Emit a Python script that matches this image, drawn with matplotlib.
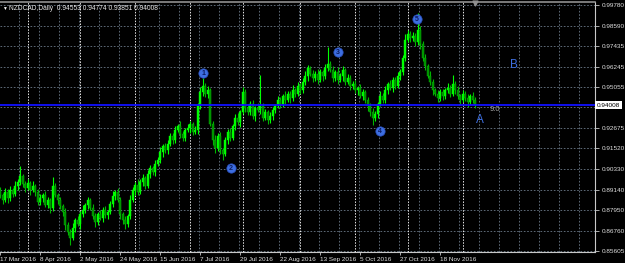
import matplotlib
matplotlib.use("Agg")
import matplotlib.pyplot as plt
import numpy as np

# ---------------- data ----------------
symbol_title = "NZDCAD,Daily  0.94553 0.94774 0.93851 0.94008"
first_open = 0.8910
closes = [
    0.88835, 0.88546, 0.89008, 0.88661, 0.89123, 0.88892, 0.89354, 0.89585, 0.89931, 0.89469,
    0.89238, 0.89527, 0.89123, 0.89354, 0.89008, 0.88431, 0.88661, 0.88835, 0.88258, 0.88546,
    0.88084, 0.89354, 0.88835, 0.88546, 0.88200, 0.87854, 0.87104, 0.86700, 0.86353, 0.86930,
    0.87392, 0.87161, 0.87738, 0.87969, 0.88258, 0.88546, 0.88084, 0.87623, 0.87277, 0.87738,
    0.87507, 0.87969, 0.87681, 0.87854, 0.88315, 0.88777, 0.89008, 0.88546, 0.87738, 0.87392,
    0.87161, 0.87623, 0.88546, 0.89123, 0.89412, 0.89008, 0.89585, 0.89815, 0.89354, 0.90046,
    0.90392, 0.90162, 0.90623, 0.90854, 0.91316, 0.91662, 0.91431, 0.91777, 0.92239, 0.92008,
    0.92585, 0.92816, 0.92354, 0.92123, 0.92585, 0.92700, 0.92931, 0.92470, 0.92585, 0.93970,
    0.94778, 0.95124, 0.94662, 0.94893, 0.92931, 0.92008, 0.91546, 0.92239, 0.91431, 0.91200,
    0.92008, 0.92470, 0.92123, 0.92816, 0.93277, 0.93047, 0.93624, 0.94778, 0.93854, 0.93624,
    0.94085, 0.93393, 0.93854, 0.93739, 0.93970, 0.93277, 0.93624, 0.93162, 0.93393, 0.93739,
    0.93970, 0.94316, 0.94085, 0.94547, 0.94316, 0.94662, 0.94431, 0.94893, 0.94662, 0.95124,
    0.94893, 0.95355, 0.95701, 0.96162, 0.95816, 0.95585, 0.95816, 0.95470, 0.95932, 0.95701,
    0.96162, 0.96393, 0.96047, 0.95585, 0.95932, 0.95470, 0.95701, 0.96047, 0.95355, 0.95585,
    0.95124, 0.95239, 0.94893, 0.95008, 0.94547, 0.94778, 0.94316, 0.93970, 0.93624, 0.93277,
    0.93508, 0.94085, 0.94547, 0.94316, 0.94893, 0.95239, 0.95008, 0.95470, 0.95124, 0.95701,
    0.95932, 0.96739, 0.97778, 0.98124, 0.97893, 0.98009, 0.97663, 0.98355, 0.97547, 0.96739,
    0.96278, 0.95701, 0.95355, 0.94893, 0.94662, 0.94431, 0.94778, 0.94547, 0.94893, 0.95008,
    0.94662, 0.95239, 0.94893, 0.94547, 0.94316, 0.94662, 0.94431, 0.94201, 0.94547, 0.94316,
    0.94008,
]
upper_wicks = [
    .0020, .0012, .0025, .0015, .0022, .0010, .0030, .0018, .0060, .0014,
    .0016, .0024, .0011, .0028, .0013, .0019, .0026, .0012, .0021, .0017,
    .0014, .0050, .0020, .0013, .0018, .0011, .0022, .0015, .0019, .0027,
    .0012, .0023, .0016, .0029, .0014, .0020, .0011, .0025, .0017, .0013,
    .0021, .0015, .0026, .0012, .0018, .0031, .0014, .0022, .0016, .0011,
    .0024, .0013, .0028, .0017, .0020, .0035, .0015, .0021, .0012, .0026,
    .0018, .0014, .0023, .0016, .0029, .0012, .0020, .0025, .0015, .0019,
    .0022, .0013, .0027, .0016, .0011, .0024, .0018, .0014, .0021, .0020,
    .0026, .0045, .0017, .0022, .0012, .0019, .0028, .0015, .0023, .0013,
    .0020, .0016, .0025, .0014, .0021, .0030, .0012, .0030, .0018, .0024,
    .0015, .0022, .0013, .0027, .0180, .0016, .0020, .0012, .0025, .0018,
    .0014, .0023, .0017, .0011, .0026, .0019, .0015, .0028, .0013, .0021,
    .0016, .0024, .0030, .0018, .0012, .0022, .0015, .0027, .0020, .0014,
    .0025, .0098, .0017, .0023, .0013, .0028, .0016, .0021, .0012, .0024,
    .0018, .0015, .0026, .0011, .0022, .0017, .0013, .0020, .0016, .0024,
    .0019, .0014, .0027, .0015, .0021, .0012, .0025, .0018, .0016, .0023,
    .0017, .0020, .0032, .0026, .0018, .0024, .0015, .0099, .0022, .0016,
    .0021, .0014, .0027, .0018, .0012, .0025, .0016, .0020, .0013, .0028,
    .0015, .0050, .0019, .0024, .0012, .0021, .0017, .0026, .0014, .0022,
    .0018,
]
lower_wicks = [
    .0015, .0022, .0012, .0026, .0017, .0020, .0013, .0024, .0016, .0019,
    .0021, .0014, .0027, .0011, .0023, .0018, .0015, .0025, .0012, .0020,
    .0028, .0016, .0013, .0022, .0019, .0024, .0030, .0017, .0040, .0014,
    .0021, .0013, .0026, .0018, .0015, .0023, .0011, .0020, .0027, .0016,
    .0014, .0022, .0017, .0025, .0012, .0019, .0024, .0013, .0028, .0021,
    .0030, .0015, .0018, .0012, .0026, .0020, .0014, .0023, .0017, .0011,
    .0025, .0016, .0021, .0013, .0019, .0027, .0015, .0022, .0012, .0024,
    .0018, .0014, .0023, .0020, .0016, .0011, .0026, .0019, .0013, .0022,
    .0015, .0021, .0017, .0024, .0012, .0028, .0030, .0016, .0022, .0035,
    .0014, .0025, .0019, .0013, .0021, .0017, .0026, .0012, .0023, .0018,
    .0020, .0015, .0027, .0013, .0022, .0018, .0011, .0024, .0016, .0021,
    .0019, .0013, .0025, .0017, .0022, .0014, .0028, .0016, .0020, .0012,
    .0023, .0018, .0015, .0026, .0013, .0021, .0019, .0024, .0012, .0027,
    .0016, .0020, .0014, .0025, .0018, .0022, .0011, .0028, .0017, .0013,
    .0024, .0019, .0015, .0027, .0012, .0021, .0018, .0026, .0022, .0040,
    .0017, .0023, .0013, .0020, .0016, .0025, .0011, .0022, .0019, .0014,
    .0021, .0016, .0018, .0013, .0024, .0017, .0022, .0015, .0028, .0020,
    .0023, .0014, .0019, .0026, .0012, .0021, .0017, .0024, .0015, .0020,
    .0018, .0013, .0022, .0016, .0025, .0014, .0020, .0027, .0012, .0019,
    .0016,
]
date_labels = ["17 Mar 2016", "8 Apr 2016", "2 May 2016", "24 May 2016", "15 Jun 2016",
               "7 Jul 2016", "29 Jul 2016", "22 Aug 2016", "13 Sep 2016", "5 Oct 2016",
               "27 Oct 2016", "18 Nov 2016"]
date_label_bars = [0, 16, 32, 48, 64, 80, 96, 112, 128, 144, 160, 176]
month_start_bars = [11, 32, 54, 76, 97, 120, 142, 163, 185]
price_ticks = [0.99780, 0.98590, 0.97435, 0.96245, 0.95055, 0.92675, 0.91520,
               0.90330, 0.89140, 0.87950, 0.86760, 0.85605]
current_price = 0.94008
wave_labels = ["1", "2", "3", "4", "5"]
wave_bars = [81.2, 92.4, 135.2, 152.0, 166.8]
wave_prices = [0.95874, 0.90392, 0.97086, 0.92527, 0.98990]
letter_labels = ["A", "B"]
letter_bars = [192.0, 205.6]
letter_prices = [0.93162, 0.96335]
line_label = "9.0"
line_label_bar = 198.0

# ---------------- figure ----------------
FONT = ["Liberation Sans", "DejaVu Sans"]
fig = plt.figure(figsize=(6.25, 2.63), dpi=100, facecolor="black")
ax = fig.add_axes([0.0, 0.0418, 0.952, 0.9506], facecolor="black")
ax.set_xlim(0, 238)
ax.set_ylim(0.85546, 0.99971)

grid_c = "#6c7a8a"
for p in price_ticks:
    ax.axhline(p, color=grid_c, lw=0.6, ls=(0, (2, 2)), zorder=1)
ax.axhline(current_price - 0.0009, color=grid_c, lw=0.6, ls=(0, (2, 2)), zorder=1)
for b in range(8, 238, 8):
    ax.axvline(b - 0.4, color=grid_c, lw=0.6, ls=(0, (2, 2)), zorder=1)
for b in month_start_bars:
    ax.axvline(b, color="#e8e8e8", lw=0.7, ls=(0, (1.5, 1.5)), zorder=1)

# candles
c = np.array(closes)
o = np.concatenate([[first_open], c[:-1]])
x = np.arange(len(c))
top = np.maximum(o, c)
bot = np.minimum(o, c)
hi = top + np.array(upper_wicks)
lo = bot - np.array(lower_wicks)
up = c >= o
ax.vlines(x, lo, hi, color=np.where(up, "#00ff00", "#00b400"), lw=0.8, zorder=3)
ax.bar(x[up], np.maximum(top[up] - bot[up], 0.0002), bottom=bot[up], width=0.8,
       color="#00ff00", edgecolor="#00ff00", linewidth=0.3, zorder=4)
ax.bar(x[~up], np.maximum(top[~up] - bot[~up], 0.0002), bottom=bot[~up], width=0.8,
       color="#008a00", edgecolor="#00c000", linewidth=0.3, zorder=4)

# current price line
ax.axhline(current_price, color="#1010ff", lw=1.3, zorder=5)
ax.text(line_label_bar, current_price - 0.0004, line_label, color="#a8a8a8",
        fontsize=5.5, family=FONT, va="top", ha="center", zorder=6)

# wave markers
blue = "#3d6ee0"
ax.scatter(wave_bars, wave_prices, s=45, color=blue, edgecolor="#2a50c0", lw=0.5, zorder=7)
for lab, b, p in zip(wave_labels, wave_bars, wave_prices):
    ax.text(b, p, lab, color="#0b1a60", fontsize=5, family=FONT, ha="center",
            va="center", fontweight="bold", zorder=8)
for lab, b, p in zip(letter_labels, letter_bars, letter_prices):
    ax.text(b, p, lab, color=blue, fontsize=8.5, family=FONT, ha="center",
            va="center", zorder=8)

# chart shift marker
ax.scatter([190], [0.9990], marker="v", s=12, color="#909090", zorder=8, clip_on=False)

# axes styling
ax.spines["left"].set_visible(False)
ax.spines["top"].set_color("#909090")
ax.spines["top"].set_linewidth(1.2)
ax.spines["right"].set_color("#c8c8c8")
ax.spines["bottom"].set_color("#c8c8c8")
ax.spines["right"].set_linewidth(0.8)
ax.spines["bottom"].set_linewidth(0.8)

ax.yaxis.tick_right()
ax.set_yticks(price_ticks)
ax.set_yticklabels([f"{p:.5f}" for p in price_ticks])
ax.tick_params(axis="y", colors="#c8c8c8", labelcolor="#e0e0e0", labelsize=4.6,
               length=3, width=0.6, pad=1.5)
for t in ax.get_yticklabels():
    t.set_family(FONT)

ax.set_xticks(date_label_bars)
ax.set_xticklabels(date_labels)
ax.tick_params(axis="x", colors="#c8c8c8", labelcolor="#e0e0e0", labelsize=4.6,
               length=2.5, width=0.6, pad=1.0)
for t in ax.get_xticklabels():
    t.set_family(FONT)
    t.set_ha("left")

# current price label
ax.text(1.003, (current_price - 0.85546) / (0.99971 - 0.85546), f"{current_price:.5f}",
        transform=ax.transAxes, color="black", fontsize=4.6, family=FONT, va="center",
        ha="left", bbox=dict(boxstyle="square,pad=0.25", facecolor="white", edgecolor="none"),
        zorder=10, clip_on=False)

# title
fig.text(0.004, 0.968, "\u25BC", color="white", fontsize=3.5, family=FONT, va="center")
fig.text(0.014, 0.968, symbol_title, color="#e8e8e8", fontsize=4.8, family=FONT, va="center")

fig.savefig("out.png", dpi=100, facecolor="black")
